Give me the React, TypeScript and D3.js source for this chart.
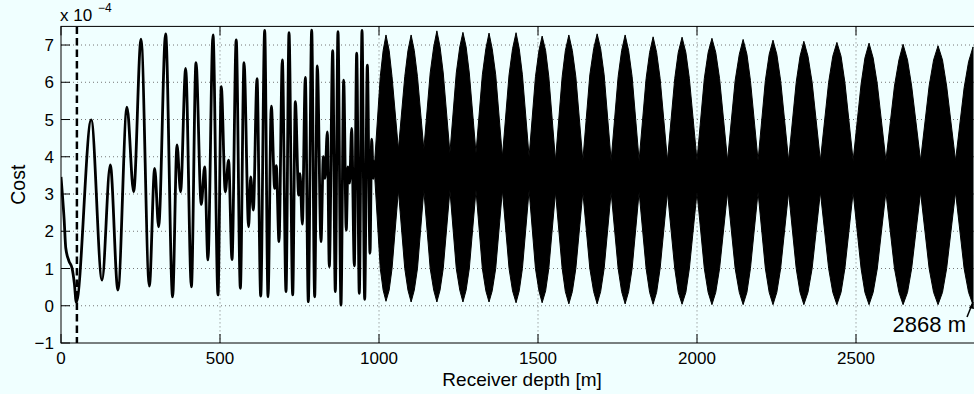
import React from "react";
import * as d3 from "d3";

// ---- data (cost in units of 1e-4, depth in m) ----
const xTicks = [0, 500, 1000, 1500, 2000, 2500];
const xTickLabels = ["0", "500", "1000", "1500", "2000", "2500"];
const yTicks = [-1, 0, 1, 2, 3, 4, 5, 6, 7];
const yTickLabels = ["\u22121", "0", "1", "2", "3", "4", "5", "6", "7"];

// resolved oscillations (local extremes)
const lineDepth = [
  0, 10, 15, 25, 35, 42, 48, 95, 129, 155, 179, 207.5, 228.5, 251.6, 277.8,
  294.6, 307, 329, 351, 364.8, 376, 392, 410, 424.5, 441, 451.8, 462, 478,
  493.7, 504, 516.7, 527, 537.7, 551, 564, 575.5, 590, 596.5, 604.8, 616.4,
  628, 640.5, 651, 661.4, 672, 677, 685.5, 696, 707.6, 717, 728.6, 736.9,
  747.4, 751.6, 758.9, 768.3, 777.7, 788.3, 797.7, 806, 817.6, 825, 830,
  837.5, 843.7, 854.4, 862.6, 871, 880.4, 889, 897, 902.5, 907.7, 914, 922.4,
  929.8, 938, 946.6, 955, 963.3, 971.7, 977, 982, 987.4,
];
const lineCost = [
  3.46, 2.3, 1.55, 1.2, 1.0, 0.6, 0.1, 4.99, 0.69, 3.78, 0.42, 5.33, 3.06,
  7.16, 0.53, 3.69, 2.12, 7.3, 0.24, 4.32, 3.06, 6.37, 0.51, 6.53, 2.72, 3.73,
  1.23, 7.27, 0.29, 5.88, 3.06, 3.91, 1.24, 7.14, 0.47, 6.53, 2.12, 3.46, 2.57,
  6.1, 0.26, 7.39, 0.24, 5.36, 3.15, 3.76, 1.72, 6.6, 0.38, 7.33, 0.29, 5.48,
  2.97, 3.55, 2.19, 6.13, 0.11, 7.4, 0.24, 6.44, 1.72, 4.0, 3.42, 4.67, 1.05,
  6.85, 0.38, 7.36, 0.02, 6.06, 2.03, 3.73, 3.29, 4.76, 1.07, 6.78, 0.33, 7.39,
  0.17, 6.46, 1.41, 4.47, 3.42, 3.91,
];

// aliased dense part: upper / lower edge of the black band
// (per beat: neck, half-way, near-centre, centre, near-centre, half-way)
const denseDepth = [
  987, 1004, 1013, 1022, 1032, 1041,
  1061, 1081, 1091, 1101, 1111, 1121,
  1141, 1161, 1172, 1182, 1192, 1202,
  1223, 1243, 1254, 1264, 1274, 1284,
  1305, 1325, 1336, 1346, 1356, 1367,
  1388, 1409, 1420, 1431, 1441, 1451,
  1472, 1492, 1503, 1513, 1524, 1534,
  1555, 1576, 1586, 1597, 1608, 1619,
  1641, 1663, 1675, 1686, 1697, 1708,
  1730, 1752, 1763, 1774, 1785, 1796,
  1818, 1840, 1851, 1862, 1873, 1884,
  1907, 1930, 1941, 1953, 1965, 1976,
  2000, 2023, 2035, 2047, 2059, 2071,
  2096, 2120, 2133, 2145, 2157, 2168,
  2192, 2215, 2227, 2239, 2251, 2263,
  2288, 2312, 2324, 2336, 2349, 2362,
  2388, 2414, 2427, 2440, 2453, 2465,
  2491, 2516, 2528, 2541, 2554, 2567,
  2594, 2621, 2635, 2648, 2662, 2675,
  2703, 2730, 2744, 2758, 2772, 2785,
  2813, 2840, 2854, 2868,
];
const denseUpper = [
  3.95, 6.15, 6.85, 7.27, 6.85, 6.15,
  4.2, 6.15, 6.85, 7.27, 6.85, 6.15,
  4.2, 6.25, 6.95, 7.38, 6.95, 6.25,
  4.1, 6.25, 6.95, 7.34, 6.95, 6.25,
  4.1, 6.2, 6.9, 7.32, 6.9, 6.2,
  4.0, 6.2, 6.9, 7.33, 6.9, 6.2,
  4.0, 6.15, 6.85, 7.24, 6.85, 6.15,
  3.9, 6.15, 6.85, 7.27, 6.85, 6.15,
  3.9, 6.2, 6.9, 7.3, 6.9, 6.2,
  3.9, 6.15, 6.85, 7.27, 6.85, 6.15,
  3.9, 6.1, 6.8, 7.22, 6.8, 6.1,
  3.9, 6.1, 6.8, 7.21, 6.8, 6.1,
  3.9, 6.1, 6.8, 7.18, 6.8, 6.1,
  3.9, 6.05, 6.75, 7.15, 6.75, 6.05,
  3.9, 6.05, 6.75, 7.13, 6.75, 6.05,
  3.9, 6.0, 6.7, 7.1, 6.7, 6.0,
  3.9, 6.0, 6.7, 7.07, 6.7, 6.0,
  3.9, 5.95, 6.65, 7.05, 6.65, 5.95,
  3.9, 5.9, 6.6, 7.02, 6.6, 5.9,
  3.9, 5.9, 6.6, 6.98, 6.6, 5.9,
  3.9, 5.85, 6.55, 6.95,
];
const denseLower = [
  3.4, 1.0, 0.42, 0.12, 0.42, 1.0,
  3.1, 1.0, 0.42, 0.1, 0.42, 1.0,
  3.1, 1.0, 0.42, 0.1, 0.42, 1.0,
  3.1, 1.0, 0.42, 0.1, 0.42, 1.0,
  3.1, 1.0, 0.4, 0.1, 0.4, 1.0,
  3.1, 1.0, 0.4, 0.08, 0.4, 1.0,
  3.1, 1.0, 0.4, 0.08, 0.4, 1.0,
  3.05, 1.0, 0.38, 0.05, 0.38, 1.0,
  3.05, 1.0, 0.38, 0.05, 0.38, 1.0,
  3.05, 1.0, 0.38, 0.05, 0.38, 1.0,
  3.05, 1.0, 0.36, 0.04, 0.36, 1.0,
  3.05, 1.0, 0.36, 0.04, 0.36, 1.0,
  3.05, 1.0, 0.36, 0.03, 0.36, 1.0,
  3.05, 1.0, 0.36, 0.03, 0.36, 1.0,
  3.05, 1.0, 0.36, 0.03, 0.36, 1.0,
  3.05, 1.0, 0.36, 0.03, 0.36, 1.0,
  3.05, 1.0, 0.36, 0.03, 0.36, 1.0,
  3.05, 1.0, 0.36, 0.03, 0.36, 1.0,
  3.05, 1.0, 0.36, 0.03, 0.36, 1.0,
  3.05, 1.0, 0.36, 0.03, 0.36, 1.0,
  3.05, 1.0, 0.36, 0.02,
];

const sourceDepth = 50;
const markDepth = 2868;
const markLabel = "2868 m";

// ---- layout ----
const W = 974;
const H = 394;
const BG = "#f0ffff";
const FONT = "'Liberation Sans', Arial, Helvetica, sans-serif";

export default function App() {
  const x = d3.scaleLinear().domain([0, 2900]).range([61, 983.2]);
  const y = d3.scaleLinear().domain([-1, 7.5]).range([343, 26.4]);
  const x0 = x.range()[0];
  const x1 = x.range()[1];
  const yb = y.range()[0];
  const yt = y.range()[1];

  const linePts = lineDepth.map((d, i) => [d, lineCost[i]] as [number, number]);
  const linePath = d3
    .line<[number, number]>()
    .x((d) => x(d[0]))
    .y((d) => y(d[1]))
    .curve(d3.curveMonotoneX)(linePts) as string;

  const densePts = denseDepth.map((d, i) => ({ d, u: denseUpper[i], l: denseLower[i] }));
  const areaPath = d3
    .area<{ d: number; u: number; l: number }>()
    .x((p) => x(p.d))
    .y0((p) => y(p.l))
    .y1((p) => y(p.u))
    .curve(d3.curveLinear)(densePts) as string;

  const tickLen = 9;

  return (
    <>
      <style>{`body{margin:0;background:${BG};} svg{display:block;}`}</style>
      <svg width={W} height={H} viewBox={`0 0 ${W} ${H}`} style={{ fontFamily: FONT }}>
        <rect x={0} y={0} width={W} height={H} fill={BG} />
        <defs>
          <clipPath id="plotClip">
            <rect x={x0} y={yt} width={x1 - x0} height={yb - yt} />
          </clipPath>
        </defs>

        {/* grid */}
        <g stroke="#777" strokeWidth={1} strokeDasharray="1,3">
          {yTicks
            .filter((t) => t > -1)
            .map((t) => (
              <line key={"gy" + t} x1={x0} x2={x1} y1={y(t)} y2={y(t)} />
            ))}
          {xTicks
            .filter((t) => t > 0)
            .map((t) => (
              <line key={"gx" + t} x1={x(t)} x2={x(t)} y1={yt} y2={yb} />
            ))}
        </g>

        {/* data */}
        <g clipPath="url(#plotClip)">
          <path d={areaPath} fill="#000" stroke="#000" strokeWidth={1} />
          <path
            d={linePath}
            fill="none"
            stroke="#000"
            strokeWidth={2.8}
            strokeLinejoin="round"
          />
          <line
            x1={x(sourceDepth)}
            x2={x(sourceDepth)}
            y1={yt}
            y2={yb}
            stroke="#000"
            strokeWidth={2.5}
            strokeDasharray="7.5,4"
          />
        </g>

        {/* axes frame */}
        <rect x={x0} y={yt} width={x1 - x0} height={yb - yt} fill="none" stroke="#000" strokeWidth={1} />

        {/* ticks */}
        <g stroke="#000" strokeWidth={1}>
          {xTicks.map((t) => (
            <g key={"tx" + t}>
              <line x1={x(t)} x2={x(t)} y1={yb} y2={yb - tickLen} />
              <line x1={x(t)} x2={x(t)} y1={yt} y2={yt + tickLen} />
            </g>
          ))}
          {yTicks.map((t) => (
            <line key={"ty" + t} x1={x0} x2={x0 + tickLen} y1={y(t)} y2={y(t)} />
          ))}
        </g>

        {/* tick labels */}
        <g fontSize={17} fill="#000">
          {xTicks.map((t, i) => (
            <text key={"lx" + t} x={x(t)} y={364} textAnchor="middle">
              {xTickLabels[i]}
            </text>
          ))}
          {yTicks.map((t, i) => (
            <text key={"ly" + t} x={54} y={y(t)} dy="0.36em" textAnchor="end">
              {yTickLabels[i]}
            </text>
          ))}
        </g>

        {/* exponent */}
        <text x={60} y={21} fontSize={17}>
          x 10
        </text>
        <text x={98} y={12} fontSize={12}>
          {"\u22124"}
        </text>

        {/* axis labels */}
        <text x={(x0 + x1) / 2} y={386} fontSize={19} textAnchor="middle">
          Receiver depth [m]
        </text>
        <text transform={`translate(25,${(yt + yb) / 2}) rotate(-90)`} fontSize={19.5} textAnchor="middle">
          Cost
        </text>

        {/* annotation */}
        <text x={966} y={332} fontSize={22} textAnchor="end">
          {markLabel}
        </text>
        <path
          d={`M${x(markDepth) - 6},${y(-0.3)} L${x(markDepth)},${y(0.1)}`}
          stroke="#000"
          strokeWidth={1.5}
        />
        <path d={`M${x(markDepth)},${y(0.1)} l-4,6 l5,1 z`} fill="#000" />
      </svg>
    </>
  );
}
